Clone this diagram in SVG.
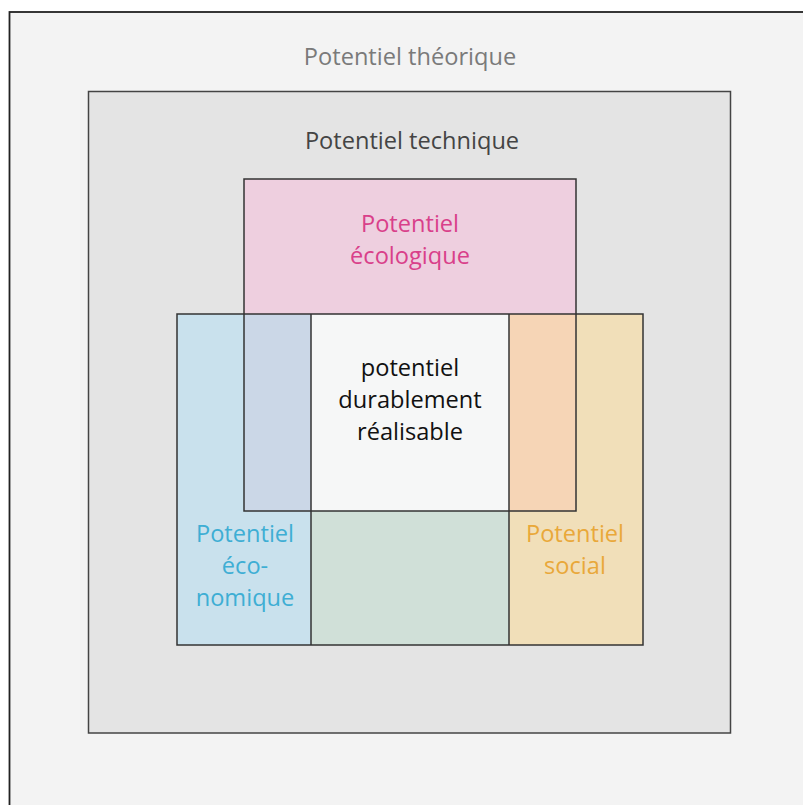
<svg xmlns="http://www.w3.org/2000/svg" width="803" height="805" viewBox="0 0 803 805">
<style>
.t{font-family:"Open Sans","Noto Sans","Liberation Sans",sans-serif;font-size:23.6px;text-anchor:middle}
.ln{fill:none;stroke:#333;stroke-width:1.5}
</style>
<rect width="803" height="805" fill="#ffffff"/>
<g id="theorique">
<rect x="9.5" y="12" width="800" height="800" fill="#f3f3f3" stroke="#222" stroke-width="1.8"/>
<text class="t" x="410" y="65" fill="#7a7a7a">Potentiel théorique</text>
</g>
<g id="technique">
<rect x="88.5" y="91.5" width="642" height="641.5" fill="#e4e4e4" stroke="#444" stroke-width="1.5"/>
<text class="t" x="412" y="149" fill="#444">Potentiel technique</text>
</g>
<g id="ecologique">
<rect x="244" y="179" width="332" height="135" fill="#eecfdf"/>
<rect x="244" y="314" width="67" height="197" fill="#cbd7e7"/>
<rect x="509" y="314" width="67" height="197" fill="#f6d5b6"/>
<text class="t" x="410" y="232" fill="#d9408a">Potentiel</text>
<text class="t" x="410" y="264" fill="#d9408a">écologique</text>
</g>
<g id="economique">
<rect x="177" y="314" width="67" height="331" fill="#c9e1ed"/>
<rect x="244" y="511" width="67" height="134" fill="#c9e1ed"/>
<text class="t" x="245" y="542" fill="#3eaed4">Potentiel</text>
<text class="t" x="245" y="574" fill="#3eaed4">éco-</text>
<text class="t" x="245" y="606" fill="#3eaed4">nomique</text>
</g>
<g id="social">
<rect x="576" y="314" width="67" height="331" fill="#f1dfb9"/>
<rect x="509" y="511" width="67" height="134" fill="#f1dfb9"/>
<text class="t" x="575" y="542" fill="#e9a83a">Potentiel</text>
<text class="t" x="575" y="574" fill="#e9a83a">social</text>
</g>
<g id="economique-social">
<rect x="311" y="511" width="198" height="134" fill="#d0e0d8"/>
</g>
<g id="durable">
<rect x="311" y="314" width="198" height="197" fill="#f6f7f7"/>
<text class="t" x="410" y="376" fill="#111">potentiel</text>
<text class="t" x="410" y="408" fill="#111">durablement</text>
<text class="t" x="410" y="440" fill="#111">réalisable</text>
</g>
<g id="connectors">
<rect class="ln" x="244" y="179" width="332" height="332"/>
<rect class="ln" x="177" y="314" width="466" height="331"/>
<line class="ln" x1="311" y1="314" x2="311" y2="645"/>
<line class="ln" x1="509" y1="314" x2="509" y2="645"/>
</g>
</svg>
